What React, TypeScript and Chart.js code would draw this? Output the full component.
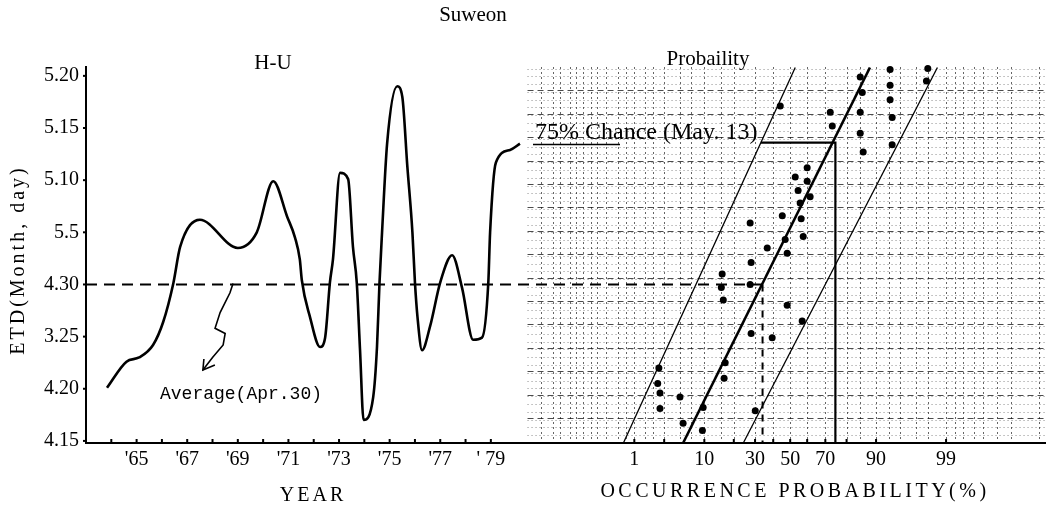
import React, { useEffect, useRef } from 'react';
import { Chart, registerables } from 'chart.js';

Chart.register(...registerables);

// ---------- data ----------
const yTickDays = [0, 5, 10, 15, 20, 25, 30, 35];
const yTickLabels = ['4.15', '4.20', '3.25', '4.30', '5.5', '5.10', '5.15', '5.20'];

const yearTickValues = [1965, 1967, 1969, 1971, 1973, 1975, 1977, 1979];
const yearTickLabels = ["'65", "'67", "'69", "'71", "'73", "'75", "'77", "' 79"];
const yearMinorTicks = [1964, 1965, 1966, 1967, 1968, 1969, 1970, 1971, 1972, 1973, 1974, 1975, 1976, 1977, 1978, 1979];

const probTickValues = [1, 10, 30, 50, 70, 90, 99];
const probTickLabels = ['1', '10', '30', '50', '70', '90', '99'];
const probMinorTicks = [1, 3, 10, 20, 30, 40, 50, 60, 70, 80, 90, 99];

// H-U emergence-date curve (year, days after Apr 15)
const huYears = [1963.83, 1964.6, 1965.1, 1965.65, 1966.05, 1966.45, 1966.72, 1967.5, 1969.0, 1969.75,
  1970.4, 1970.95, 1971.26, 1971.45, 1971.53, 1971.85, 1972.25, 1972.45, 1972.64, 1972.76,
  1973.04, 1973.36, 1973.55, 1973.7, 1973.83, 1973.97, 1974.35, 1974.5, 1974.6, 1974.7,
  1974.9, 1975.3, 1975.5, 1975.7, 1975.9, 1976.0, 1976.1, 1976.28, 1976.6, 1977.0,
  1977.47, 1977.86, 1978.3, 1978.65, 1978.9, 1978.97, 1979.2, 1979.76, 1980.15];
const huDays = [5.1, 7.6, 8.0, 9.2, 11.4, 15.1, 18.6, 21.2, 18.5, 20.0,
  24.9, 21.5, 19.5, 17.4, 15.4, 11.9, 9.0, 9.9, 15.2, 17.4,
  25.7, 25.1, 18.6, 15.2, 8.7, 2.0, 4.2, 9.0, 15.2, 20.0,
  28.5, 34.0, 33.0, 26.3, 20.0, 15.2, 11.9, 8.7, 11.0, 15.2,
  17.8, 14.7, 9.7, 9.9, 15.2, 20.0, 26.7, 27.9, 28.5];

// observed points on probability paper (occurrence %, days after Apr 15)
const obsProb = [44.1, 72.5, 73.5, 85.2, 85.9, 85.2, 85.2, 86.2, 93.2, 93.2,
  93.2, 93.6, 93.6, 98.0, 97.9, 60.0, 53.0, 60.0, 54.7, 61.7,
  55.9, 45.3, 56.5, 27.5, 47.0, 57.7, 36.6, 48.2, 28.0, 15.5,
  27.5, 15.2, 15.9, 48.2, 57.1, 28.0, 39.4, 16.6, 2.5, 16.2,
  2.4, 2.6, 5.0, 9.7, 2.6, 30.1, 5.5, 9.5];
const obsDay = [32.1, 31.5, 30.2, 34.9, 33.4, 31.5, 29.5, 27.7, 35.6, 34.1,
  32.7, 31.0, 28.4, 35.7, 34.5, 26.2, 25.3, 24.9, 24.0, 23.4,
  22.8, 21.6, 21.3, 20.9, 19.3, 19.6, 18.5, 18.0, 17.1, 16.0,
  15.0, 14.7, 13.5, 13.0, 11.5, 10.3, 9.9, 7.5, 7.0, 6.0,
  5.5, 4.6, 4.2, 3.2, 3.1, 2.9, 1.7, 1.0];

// fitted lines (probability % at bottom and top)
const bandDays = [-0.2, 35.8];
const lowerBandProb = [0.64, 53];
const centerBandProb = [5.5, 88.3];
const upperBandProb = [24.2, 98.6];

const averageDay = 15;
const averageCrossProb = 34;
const chanceProb = 75;
const chanceDay = 28.6;

// hand-drawn pointer from the average line to its label (year, day)
const arrowYears = [1968.81, 1968.69, 1968.3, 1968.1, 1968.5, 1968.42, 1968.0, 1967.62];
const arrowDays = [15.1, 14.2, 12.3, 10.8, 10.3, 9.2, 8.0, 6.8];

// probability-paper ruling
const paperProbs = [0.01, 0.02, 0.03, 0.05, 0.07, 0.1, 0.15, 0.2, 0.3, 0.5, 0.7, 1, 1.5, 2, 3, 5, 7, 10, 15, 20,
  30, 40, 50, 60, 70, 80, 85, 90, 93, 95, 97, 98, 99, 99.3, 99.5, 99.7, 99.8, 99.9, 99.95, 99.99];

// ---------- layout constants ----------
const X_MIN = 1963;
const X_MAX = 2000.9;
const Y_MIN = -0.2;
const Y_MAX = 35.85;
const P_CENTER = 1990.83;
const P_SCALE = 2.648;
const PAPER_LEFT = 1980.45;
const SERIF = '"Liberation Serif", "DejaVu Serif", serif';

function probit(p: number): number {
  const a = [-3.969683028665376e+01, 2.209460984245205e+02, -2.759285104469687e+02, 1.383577518672690e+02, -3.066479806614716e+01, 2.506628277459239e+00];
  const b = [-5.447609879822406e+01, 1.615858368580409e+02, -1.556989798598866e+02, 6.680131188771972e+01, -1.328068155288572e+01];
  const c = [-7.784894002430293e-03, -3.223964580411365e-01, -2.400758277161838e+00, -2.549732539343734e+00, 4.374664141464968e+00, 2.938163982698783e+00];
  const d = [7.784695709041462e-03, 3.224671290700398e-01, 2.445134137142996e+00, 3.754408661907416e+00];
  const pl = 0.02425;
  let q: number, r: number;
  if (p < pl) {
    q = Math.sqrt(-2 * Math.log(p));
    return (((((c[0] * q + c[1]) * q + c[2]) * q + c[3]) * q + c[4]) * q + c[5]) / ((((d[0] * q + d[1]) * q + d[2]) * q + d[3]) * q + 1);
  }
  if (p <= 1 - pl) {
    q = p - 0.5; r = q * q;
    return (((((a[0] * r + a[1]) * r + a[2]) * r + a[3]) * r + a[4]) * r + a[5]) * q / (((((b[0] * r + b[1]) * r + b[2]) * r + b[3]) * r + b[4]) * r + 1);
  }
  q = Math.sqrt(-2 * Math.log(1 - p));
  return -(((((c[0] * q + c[1]) * q + c[2]) * q + c[3]) * q + c[4]) * q + c[5]) / ((((d[0] * q + d[1]) * q + d[2]) * q + d[3]) * q + 1);
}
const probX = (p: number) => P_CENTER + P_SCALE * probit(p / 100);

const bandData = (probs: number[]) => probs.map((p, i) => ({ x: probX(p), y: bandDays[i] }));
const lowerAt = (day: number) => {
  const x0 = probX(lowerBandProb[0]), x1 = probX(lowerBandProb[1]);
  return x0 + (x1 - x0) * (day - bandDays[0]) / (bandDays[1] - bandDays[0]);
};

const xTickValues = [...yearTickValues, ...probTickValues.map(probX)];
const xTickLabels = [...yearTickLabels, ...probTickLabels];

const lineDs = (data: { x: number; y: number }[], width: number, dash: number[] = []) => ({
  data, borderColor: '#000', backgroundColor: '#000', borderWidth: width, borderDash: dash,
  pointRadius: 0, fill: false, tension: 0, clip: false as any,
});

const decorPlugin = {
  id: 'decor',
  beforeDatasetsDraw(chart: any) {
    const { ctx, chartArea: ca, scales } = chart;
    const xs = scales.x;
    const left = xs.getPixelForValue(PAPER_LEFT);
    const right = ca.right;
    ctx.save();
    ctx.lineWidth = 1;
    // fine dotted rows
    ctx.strokeStyle = 'rgba(0,0,0,0.45)';
    ctx.setLineDash([1, 3]);
    for (let y = ca.top + 1.5; y < ca.bottom - 2; y += 7.8) {
      ctx.beginPath(); ctx.moveTo(left, Math.round(y) + 0.5); ctx.lineTo(right, Math.round(y) + 0.5); ctx.stroke();
    }
    // heavier dashed rows
    ctx.strokeStyle = 'rgba(0,0,0,0.7)';
    ctx.setLineDash([6, 4]);
    for (let y = ca.top + 23.4; y < ca.bottom - 5; y += 23.4) {
      ctx.beginPath(); ctx.moveTo(left, Math.round(y) + 0.5); ctx.lineTo(right, Math.round(y) + 0.5); ctx.stroke();
    }
    // vertical rulings
    ctx.strokeStyle = 'rgba(0,0,0,0.6)';
    ctx.setLineDash([2, 3]);
    paperProbs.forEach((p) => {
      const x = Math.round(xs.getPixelForValue(probX(p))) + 0.5;
      if (x < left || x > right) return;
      ctx.beginPath(); ctx.moveTo(x, ca.top); ctx.lineTo(x, ca.bottom); ctx.stroke();
    });
    ctx.restore();
  },
  afterDatasetsDraw(chart: any) {
    const { ctx, chartArea: ca, scales } = chart;
    const xs = scales.x, ys = scales.y;
    ctx.save();
    ctx.strokeStyle = '#000';
    ctx.fillStyle = '#000';
    ctx.setLineDash([]);
    // minor ticks on x axis
    ctx.lineWidth = 2;
    const tick = (v: number) => {
      const x = xs.getPixelForValue(v);
      ctx.beginPath(); ctx.moveTo(x, ca.bottom); ctx.lineTo(x, ca.bottom - 4); ctx.stroke();
    };
    yearMinorTicks.forEach(tick);
    probMinorTicks.forEach((p) => tick(probX(p)));
    // y ticks
    yTickDays.forEach((d) => {
      const y = ys.getPixelForValue(d);
      ctx.beginPath(); ctx.moveTo(ca.left, y); ctx.lineTo(ca.left - 3, y); ctx.stroke();
    });

    // pointer arrow
    ctx.lineWidth = 1.6;
    ctx.beginPath();
    arrowYears.forEach((yr, i) => {
      const x = xs.getPixelForValue(yr), y = ys.getPixelForValue(arrowDays[i]);
      if (i === 0) ctx.moveTo(x, y); else ctx.lineTo(x, y);
    });
    ctx.stroke();
    const n = arrowYears.length;
    const hx = xs.getPixelForValue(arrowYears[n - 1]), hy = ys.getPixelForValue(arrowDays[n - 1]);
    ctx.beginPath();
    ctx.moveTo(hx + 1, hy - 11); ctx.lineTo(hx, hy); ctx.lineTo(hx + 12, hy - 5);
    ctx.stroke();

    // texts
    ctx.textBaseline = 'middle';
    ctx.textAlign = 'center';
    ctx.font = `21px ${SERIF}`;
    ctx.fillText('Suweon', 473, 15);
    ctx.fillText('H-U', 273, 63);
    ctx.fillText('Probaility', 708, 59);

    ctx.font = `18px "Liberation Mono", "DejaVu Sans Mono", monospace`;
    ctx.textAlign = 'left';
    ctx.fillText('Average(Apr.30)', 160, 394);

    const cy = ys.getPixelForValue(chanceDay);
    ctx.font = `24px ${SERIF}`;
    ctx.textBaseline = 'alphabetic';
    ctx.fillText('75% Chance (May. 13)', 535, cy - 4);
    ctx.lineWidth = 1.5;
    ctx.beginPath(); ctx.moveTo(533, cy + 2); ctx.lineTo(620, cy + 2); ctx.stroke();

    ctx.textBaseline = 'middle';
    ctx.textAlign = 'center';
    ctx.font = `20px ${SERIF}`;
    (ctx as any).letterSpacing = '3px';
    ctx.fillText('YEAR', 313, 496);
    (ctx as any).letterSpacing = '3.5px';
    ctx.fillText('OCCURRENCE PROBABILITY(%)', 795, 492);

    ctx.translate(19, 260);
    ctx.rotate(-Math.PI / 2);
    (ctx as any).letterSpacing = '3px';
    ctx.fillText('ETD(Month, day)', 0, 0);
    ctx.restore();
  },
};

export default function App() {
  const ref = useRef<HTMLCanvasElement | null>(null);
  useEffect(() => {
    if (!ref.current) return;
    const chanceX = probX(chanceProb);
    const avgX = probX(averageCrossProb);
    const chart = new Chart(ref.current, {
      type: 'line',
      data: {
        datasets: [
          {
            ...lineDs(huYears.map((x, i) => ({ x, y: huDays[i] })), 2.6),
            cubicInterpolationMode: 'monotone',
          } as any,
          lineDs([{ x: X_MIN, y: averageDay }, { x: avgX, y: averageDay }], 2, [11, 7]),
          lineDs([{ x: avgX, y: averageDay }, { x: avgX, y: Y_MIN }], 2, [7, 6]),
          lineDs(bandData(lowerBandProb), 1.3),
          lineDs(bandData(centerBandProb), 2.6),
          lineDs(bandData(upperBandProb), 1.3),
          lineDs([{ x: lowerAt(chanceDay), y: chanceDay }, { x: chanceX, y: chanceDay }, { x: chanceX, y: Y_MIN }], 2.2),
          {
            data: obsProb.map((p, i) => ({ x: probX(p), y: obsDay[i] })),
            showLine: false, pointRadius: 3.5, pointBackgroundColor: '#000', pointBorderColor: '#000',
            pointBorderWidth: 0, clip: false,
          } as any,
        ],
      },
      options: {
        animation: false,
        responsive: true,
        maintainAspectRatio: false,
        events: [],
        layout: { padding: { top: 67, right: 4, left: 0, bottom: 0 } },
        plugins: { legend: { display: false }, tooltip: { enabled: false }, title: { display: false } },
        scales: {
          x: {
            type: 'linear', min: X_MIN, max: X_MAX,
            grid: { display: false, drawTicks: false },
            border: { display: true, color: '#000', width: 2 },
            afterBuildTicks: (s: any) => { s.ticks = xTickValues.map((v) => ({ value: v })); },
            afterFit: (s: any) => { s.height = 65; },
            ticks: {
              autoSkip: false, maxRotation: 0, padding: 5, color: '#000',
              font: { family: SERIF, size: 20 },
              callback: (_v: any, i: number) => xTickLabels[i],
            },
          },
          y: {
            type: 'linear', min: Y_MIN, max: Y_MAX,
            grid: { display: false, drawTicks: false },
            border: { display: true, color: '#000', width: 2 },
            afterBuildTicks: (s: any) => { s.ticks = yTickDays.map((v) => ({ value: v })); },
            afterFit: (s: any) => { s.width = 86; },
            ticks: {
              padding: 7, color: '#000',
              font: { family: SERIF, size: 20 },
              callback: (_v: any, i: number) => yTickLabels[i],
            },
          },
        },
      } as any,
      plugins: [decorPlugin],
    });
    return () => chart.destroy();
  }, []);
  return (
    <div style={{ position: 'absolute', left: 0, top: 0, width: 1049, height: 508, background: '#fff' }}>
      <canvas ref={ref} />
    </div>
  );
}
